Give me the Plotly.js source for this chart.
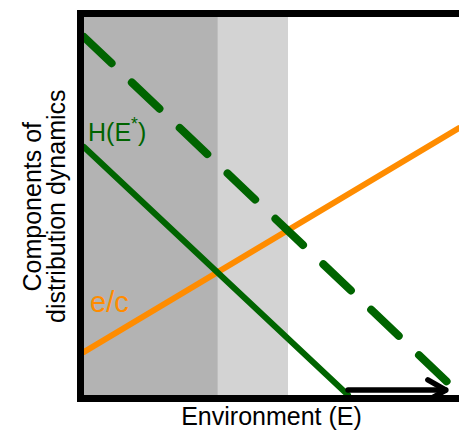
<!DOCTYPE html>
<html>
<head>
<meta charset="utf-8">
<script src="https://cdn.plot.ly/plotly-3.0.1.min.js"></script>
<style>
html, body { margin: 0; padding: 0; overflow: hidden; background: #fff; }
#chart { width: 459px; height: 430px; }
path.js-line { stroke-linecap: round !important; }
</style>
</head>
<body>
<div id="chart"></div>
<script>
// Shaded regions of the environment axis
var regionStart = [0, 3.57];
var regionEnd = [3.57, 5.44];
var regionColor = ['#b3b3b3', '#d3d3d3'];

// e/c line
var ecX = [0, 10];
var ecY = [1.14, 7.06];

// H(E*) solid line
var hX = [0, 7.04];
var hY = [6.56, 0];

// Dashed (shifted) H line
var hShiftX = [0, 10];
var hShiftY = [9.47, 0.05];

// Arrow along the environment axis
var arrowX = [7.04, 9.65, null, 9.17, 9.65, 9.17];
var arrowY = [0.13, 0.13, null, 0.40, 0.13, -0.14];

// Labels
var labelText = ['H(E<sup>*</sup>)', 'e/c'];
var labelX = [0.05, 0.1];
var labelY = [7.0, 2.45];
var labelSize = [25, 29];
var labelColor = ['#006400', '#FF8C00'];

var yTitleLines = ['Components of', 'distribution dynamics'];
var xTitle = 'Environment (E)';

var FONT = '"Liberation Sans", Arial, Helvetica, sans-serif';

var traces = [
  {x: ecX, y: ecY, mode: 'lines', line: {color: '#FF8C00', width: 6}, hoverinfo: 'skip'},
  {x: hX, y: hY, mode: 'lines', line: {color: '#006400', width: 6}, hoverinfo: 'skip'},
  {x: hShiftX, y: hShiftY, mode: 'lines', line: {color: '#006400', width: 8, dash: '38px,28px'}, hoverinfo: 'skip'},
  {x: arrowX, y: arrowY, mode: 'lines', line: {color: '#000000', width: 5.5}, hoverinfo: 'skip'}
];

var shapes = regionStart.map(function (s, i) {
  return {type: 'rect', xref: 'x', yref: 'y', x0: s, x1: regionEnd[i], y0: 0, y1: 10,
          fillcolor: regionColor[i], line: {width: 0}, layer: 'below'};
});

var annotations = labelText.map(function (t, i) {
  return {text: t, x: labelX[i], y: labelY[i], xref: 'x', yref: 'y', xanchor: 'left', yanchor: 'middle',
          showarrow: false, font: {family: FONT, size: labelSize[i], color: labelColor[i]}};
});
var yTitleX = [-0.14, -0.075];
yTitleLines.forEach(function (t, i) {
  annotations.push({text: t, x: yTitleX[i], y: 0.5, xref: 'paper', yref: 'paper', xanchor: 'center', yanchor: 'middle',
    textangle: -90, showarrow: false, font: {family: FONT, size: 25, color: '#000'}});
});

var layout = {
  width: 459, height: 430,
  margin: {l: 84, r: 0, t: 17, b: 35},
  paper_bgcolor: '#ffffff', plot_bgcolor: '#ffffff',
  showlegend: false,
  xaxis: {range: [0, 10], showgrid: false, zeroline: false, showticklabels: false, ticks: '',
          showline: true, linewidth: 7, linecolor: '#000', mirror: true,
          title: {text: xTitle, font: {family: FONT, size: 25, color: '#000'}, standoff: 14}},
  yaxis: {range: [0, 10], showgrid: false, zeroline: false, showticklabels: false, ticks: '',
          showline: true, linewidth: 7, linecolor: '#000', mirror: false},
  shapes: shapes,
  annotations: annotations
};

Plotly.newPlot('chart', traces, layout, {displayModeBar: false, staticPlot: true});
</script>
</body>
</html>
